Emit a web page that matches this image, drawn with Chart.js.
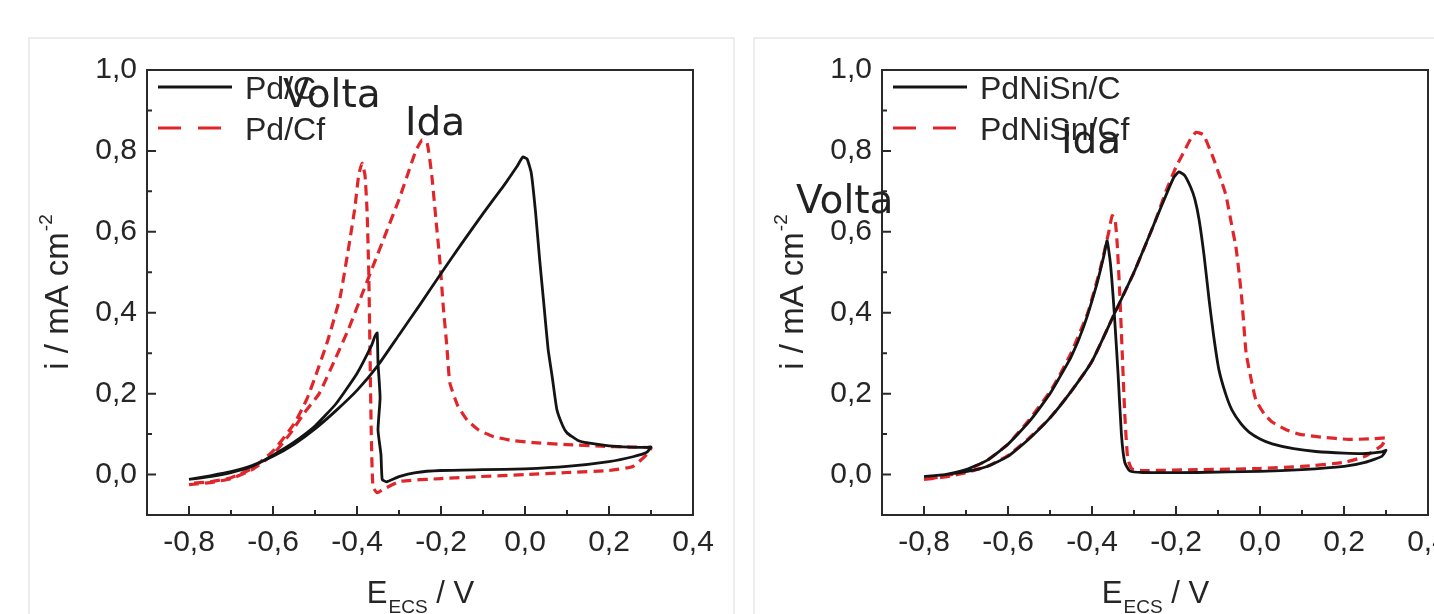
<!DOCTYPE html>
<html>
<head>
<meta charset="utf-8">
<script src="https://cdn.jsdelivr.net/npm/chart.js@4.4.0/dist/chart.umd.min.js"></script>
<style>
html, body { margin: 0; padding: 0; background: #fff; overflow: hidden; width: 1434px; height: 614px; }
.frame { position: absolute; border: 2px solid #ececec; }
.wrap { position: absolute; top: 0; width: 740px; height: 614px; }
</style>
</head>
<body>
<div class="frame" style="left:28px;top:37px;width:703px;height:620px"></div>
<div class="frame" style="left:753px;top:37px;width:720px;height:620px"></div>
<div class="wrap" style="left:0"><canvas id="left"></canvas></div>
<div class="wrap" style="left:740px"><canvas id="right"></canvas></div>
<script>
// axis ticks (E in V, i in mA cm-2)
var xTicks = [-0.8, -0.6, -0.4, -0.2, 0.0, 0.2, 0.4];
var xMinor = [-0.7, -0.5, -0.3, -0.1, 0.1, 0.3];
var yTicks = [0.0, 0.2, 0.4, 0.6, 0.8, 1.0];
var yMinor = [0.1, 0.3, 0.5, 0.7, 0.9];

// Pd/C  (forward scan -0.8 -> 0.3, then back)
var pdC_E = [-0.80,-0.75,-0.70,-0.65,-0.60,-0.55,-0.50,-0.45,-0.40,-0.35,-0.30,-0.25,-0.20,-0.15,-0.10,-0.05,-0.02,-0.005,0.005,0.015,
  0.025,0.035,0.045,0.055,0.065,0.076,0.09,0.10,0.125,0.15,0.20,0.25,0.29,0.30,
  0.29,0.257,0.20,0.10,0.00,-0.10,-0.20,-0.26,-0.30,-0.33,-0.34,-0.343,-0.35,-0.345,-0.35,-0.352,-0.358,-0.365,-0.40,-0.45,
  -0.50,-0.55,-0.60,-0.65,-0.70,-0.75,-0.80];
var pdC_i = [-0.012,-0.003,0.007,0.022,0.045,0.075,0.113,0.158,0.208,0.27,0.345,0.42,0.497,0.572,0.645,0.715,0.76,0.785,0.78,0.745,
  0.65,0.53,0.42,0.31,0.24,0.16,0.12,0.103,0.085,0.078,0.071,0.068,0.067,0.068,
  0.055,0.044,0.032,0.02,0.014,0.012,0.01,0.005,-0.005,-0.018,-0.012,0.05,0.11,0.19,0.276,0.35,0.34,0.32,0.25,0.175,
  0.12,0.08,0.048,0.02,0.005,-0.005,-0.012];

// Pd/Cf
var pdCf_E = [-0.80,-0.75,-0.70,-0.65,-0.60,-0.56,-0.52,-0.49,-0.45,-0.42,-0.39,-0.36,-0.33,-0.30,-0.28,-0.26,-0.245,-0.233,-0.222,-0.212,
  -0.202,-0.195,-0.186,-0.179,-0.16,-0.138,-0.11,-0.076,-0.03,0.02,0.10,0.18,0.25,0.30,
  0.29,0.257,0.20,0.10,0.00,-0.107,-0.20,-0.298,-0.338,-0.352,-0.362,-0.366,-0.369,-0.372,-0.376,-0.381,-0.388,-0.396,-0.405,-0.417,
  -0.44,-0.47,-0.50,-0.52,-0.55,-0.60,-0.65,-0.70,-0.75,-0.80];
var pdCf_i = [-0.025,-0.02,-0.01,0.012,0.05,0.10,0.16,0.20,0.29,0.36,0.44,0.52,0.60,0.68,0.74,0.80,0.827,0.82,0.74,0.63,
  0.52,0.42,0.316,0.227,0.17,0.135,0.11,0.094,0.084,0.079,0.074,0.07,0.068,0.066,
  0.05,0.02,0.01,0.005,0.0,-0.005,-0.01,-0.017,-0.037,-0.045,-0.03,0.10,0.30,0.50,0.65,0.74,0.77,0.74,0.66,0.58,
  0.44,0.33,0.24,0.185,0.125,0.058,0.015,-0.008,-0.018,-0.022];

// PdNiSn/C
var pdNiSnC_E = [-0.80,-0.75,-0.70,-0.65,-0.60,-0.55,-0.50,-0.45,-0.40,-0.35,-0.30,-0.25,-0.22,-0.205,-0.193,-0.18,-0.165,-0.155,-0.145,-0.133,
  -0.121,-0.11,-0.098,-0.082,-0.067,-0.045,-0.026,0.0,0.029,0.08,0.133,0.20,0.252,0.29,0.30,
  0.29,0.25,0.20,0.10,0.00,-0.15,-0.28,-0.31,-0.322,-0.33,-0.338,-0.347,-0.356,-0.364,-0.372,-0.39,-0.42,-0.45,-0.48,-0.50,
  -0.55,-0.60,-0.65,-0.70,-0.75,-0.80];
var pdNiSnC_i = [-0.005,0.0,0.007,0.02,0.045,0.088,0.14,0.205,0.28,0.39,0.50,0.625,0.70,0.735,0.748,0.74,0.71,0.68,0.63,0.54,
  0.43,0.34,0.26,0.20,0.16,0.125,0.105,0.088,0.076,0.064,0.057,0.053,0.052,0.056,0.06,
  0.045,0.03,0.02,0.012,0.008,0.005,0.005,0.009,0.03,0.10,0.25,0.40,0.52,0.578,0.54,0.465,0.365,0.29,0.235,0.20,
  0.13,0.075,0.035,0.012,0.0,-0.005];

// PdNiSn/Cf
var pdNiSnCf_E = [-0.80,-0.75,-0.70,-0.65,-0.60,-0.55,-0.50,-0.45,-0.40,-0.35,-0.30,-0.25,-0.224,-0.20,-0.18,-0.165,-0.152,-0.135,-0.114,-0.095,
  -0.081,-0.068,-0.057,-0.05,-0.043,-0.033,-0.02,-0.01,0.01,0.029,0.06,0.093,0.15,0.21,0.26,0.29,0.30,
  0.29,0.25,0.20,0.10,0.00,-0.15,-0.28,-0.305,-0.315,-0.322,-0.328,-0.334,-0.34,-0.345,-0.352,-0.36,-0.38,-0.41,-0.45,-0.48,
  -0.50,-0.55,-0.60,-0.65,-0.70,-0.75,-0.80];
var pdNiSnCf_i = [-0.012,-0.006,0.005,0.02,0.047,0.09,0.14,0.205,0.28,0.39,0.50,0.625,0.70,0.76,0.80,0.83,0.846,0.84,0.79,0.735,
  0.69,0.62,0.56,0.50,0.43,0.30,0.23,0.185,0.15,0.13,0.112,0.10,0.092,0.087,0.088,0.09,0.09,
  0.072,0.045,0.03,0.02,0.015,0.012,0.01,0.014,0.04,0.15,0.30,0.45,0.57,0.63,0.64,0.60,0.51,0.40,0.30,0.24,
  0.205,0.135,0.075,0.035,0.01,-0.004,-0.012];

var black = '#141414', red = '#e0262b', ink = '#262626';
var tickFont = {family: '"Liberation Sans", Arial, sans-serif', size: 30};

function pts(E, I) {
  var out = [];
  for (var k = 0; k < E.length; k++) out.push({x: E[k], y: I[k]});
  return out;
}
function fmt(v) { return v.toFixed(1).replace('.', ','); }
function has(list, v) { return list.some(function(t){ return Math.abs(t - v) < 1e-6; }); }

var decor = {
  id: 'decor',
  afterDraw: function(chart, args, o) {
    var ctx = chart.ctx, a = chart.chartArea, x = chart.scales.x, y = chart.scales.y;
    ctx.save();
    // plot frame
    ctx.strokeStyle = '#2a2a2a';
    ctx.lineWidth = 2;
    ctx.strokeRect(a.left, a.top, a.right - a.left, a.bottom - a.top);
    // inward ticks
    ctx.beginPath();
    xTicks.concat(xMinor).forEach(function(v){
      var px = x.getPixelForValue(v), len = has(xTicks, v) ? 9 : 5;
      ctx.moveTo(px, a.bottom); ctx.lineTo(px, a.bottom - len);
    });
    yTicks.concat(yMinor).forEach(function(v){
      var py = y.getPixelForValue(v), len = has(yTicks, v) ? 9 : 5;
      ctx.moveTo(a.left, py); ctx.lineTo(a.left + len, py);
    });
    ctx.stroke();

    // legend inside plot
    ctx.font = '32px "Liberation Sans", Arial, sans-serif';
    ctx.fillStyle = ink;
    ctx.textBaseline = 'alphabetic';
    chart.data.datasets.forEach(function(ds, i){
      var ly = a.top + 17 + i * 41;
      ctx.save();
      ctx.strokeStyle = ds.borderColor;
      ctx.lineWidth = ds.borderWidth;
      ctx.setLineDash(ds.borderDash ? [23, 17] : []);
      ctx.beginPath();
      ctx.moveTo(a.left + 11, ly); ctx.lineTo(a.left + 85, ly);
      ctx.stroke();
      ctx.restore();
      ctx.fillText(ds.label, a.left + o.legendText, ly + 11.5);
    });

    // Ida / Volta notes
    ctx.font = '39px "DejaVu Sans", sans-serif';
    ctx.fillStyle = '#222';
    o.notes.forEach(function(n){
      ctx.fillText(n.text, x.getPixelForValue(n.x), y.getPixelForValue(n.y));
    });

    // x title: E_ECS / V
    var cx = (a.left + a.right) / 2, base = 603;
    ctx.font = '31px "Liberation Sans", Arial, sans-serif';
    var wE = ctx.measureText('E').width, wR = ctx.measureText(' / V').width;
    ctx.font = '19px "Liberation Sans", Arial, sans-serif';
    var wS = ctx.measureText('ECS').width;
    var sx = cx - (wE + wS + wR) / 2;
    ctx.fillStyle = ink;
    ctx.font = '31px "Liberation Sans", Arial, sans-serif';
    ctx.fillText('E', sx, base);
    ctx.fillText(' / V', sx + wE + wS + 1, base);
    ctx.font = '19px "Liberation Sans", Arial, sans-serif';
    ctx.fillText('ECS', sx + wE + 1, base + 10);

    // y title: i / mA cm^-2
    ctx.translate(a.left - 79, (a.top + a.bottom) / 2);
    ctx.rotate(-Math.PI / 2);
    ctx.font = '33px "Liberation Sans", Arial, sans-serif';
    var wm = ctx.measureText('i / mA cm').width;
    ctx.font = '19px "Liberation Sans", Arial, sans-serif';
    var ws = ctx.measureText('-2').width;
    var tx = -(wm + ws) / 2;
    ctx.font = '33px "Liberation Sans", Arial, sans-serif';
    ctx.fillText('i / mA cm', tx, 0);
    ctx.font = '19px "Liberation Sans", Arial, sans-serif';
    ctx.fillText('-2', tx + wm + 1, -16);
    ctx.restore();
  }
};

function panel(id, yWidth, rightPad, series, notes) {
  var datasets = series.map(function(s){
    return {
      label: s.label,
      data: pts(s.E, s.i),
      borderColor: s.color,
      borderWidth: s.dash ? 3.2 : 2.8,
      borderDash: s.dash ? [10, 6] : undefined,
      showLine: true,
      pointRadius: 0,
      tension: 0.15,
      fill: false
    };
  });
  return new Chart(document.getElementById(id), {
    type: 'scatter',
    data: {datasets: datasets},
    options: {
      responsive: true,
      maintainAspectRatio: false,
      animation: false,
      layout: {padding: {left: 0, top: 70, right: rightPad, bottom: 0}},
      plugins: {
        legend: {display: false},
        tooltip: {enabled: false},
        decor: {notes: notes, legendText: 98}
      },
      scales: {
        x: {
          type: 'linear', min: -0.9, max: 0.4,
          afterBuildTicks: function(s){ s.ticks = xTicks.map(function(v){ return {value: v}; }); },
          afterFit: function(s){ s.height = 99; },
          grid: {display: false, drawTicks: false},
          border: {display: false},
          ticks: {font: tickFont, color: ink, padding: 10, maxRotation: 0, autoSkip: false, callback: function(v){ return fmt(v); }}
        },
        y: {
          type: 'linear', min: -0.1, max: 1.0,
          afterBuildTicks: function(s){ s.ticks = yTicks.map(function(v){ return {value: v}; }); },
          afterFit: function(s){ s.width = yWidth; },
          grid: {display: false, drawTicks: false},
          border: {display: false},
          ticks: {font: tickFont, color: ink, padding: 10, autoSkip: false, callback: function(v){ return fmt(v); }}
        }
      }
    },
    plugins: [decor]
  });
}

panel('left', 147, 47, [
  {label: 'Pd/C', E: pdC_E, i: pdC_i, color: black, dash: false},
  {label: 'Pd/Cf', E: pdCf_E, i: pdCf_i, color: red, dash: true}
], [
  {text: 'Volta', x: -0.576, y: 0.909},
  {text: 'Ida', x: -0.286, y: 0.84}
]);

panel('right', 142, 52, [
  {label: 'PdNiSn/C', E: pdNiSnC_E, i: pdNiSnC_i, color: black, dash: false},
  {label: 'PdNiSn/Cf', E: pdNiSnCf_E, i: pdNiSnCf_i, color: red, dash: true}
], [
  {text: 'Ida', x: -0.474, y: 0.795},
  {text: 'Volta', x: -1.105, y: 0.647}
]);
</script>
</body>
</html>
